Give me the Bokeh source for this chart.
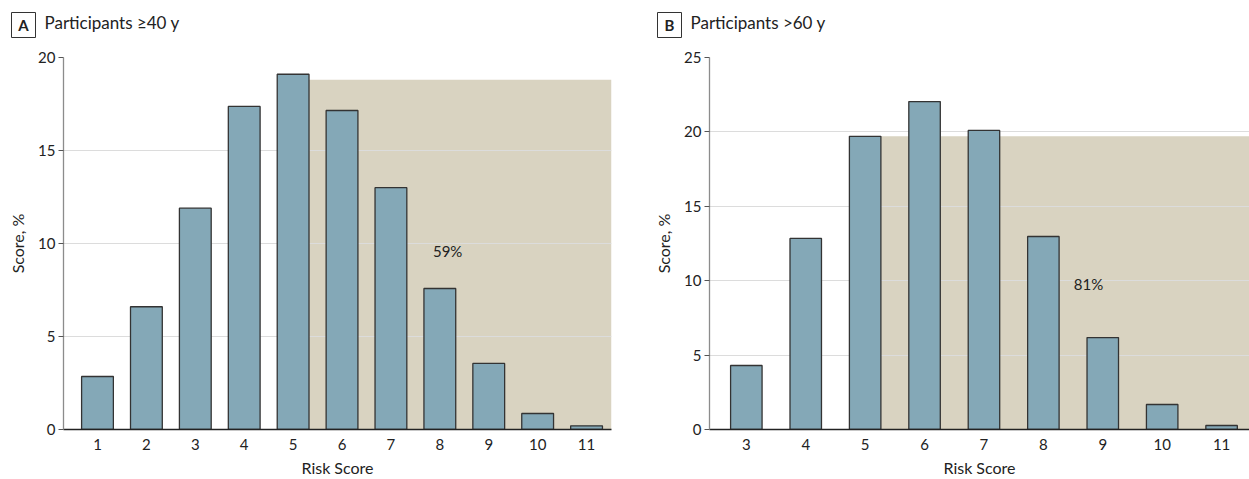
from bokeh.plotting import figure
from bokeh.layouts import row, column
from bokeh.models import Label, BoxAnnotation, FixedTicker, Range1d
from bokeh.embed import file_html
from bokeh.resources import INLINE

# ---- data ----
scores_a = [1, 2, 3, 4, 5, 6, 7, 8, 9, 10, 11]
pct_a = [2.85, 6.6, 11.9, 17.37, 19.1, 17.15, 13.0, 7.58, 3.55, 0.86, 0.2]
scores_b = [3, 4, 5, 6, 7, 8, 9, 10, 11]
pct_b = [4.3, 12.84, 19.7, 22.04, 20.1, 12.97, 6.18, 1.68, 0.27]
yticks_a = [0, 5, 10, 15, 20]
yticks_b = [0, 5, 10, 15, 20, 25]
shade_from_a = 5
shade_top_a = 18.8
shade_label_a = "59%"
shade_label_pos_a = (8.16, 9.57)
shade_from_b = 5
shade_top_b = 19.7
shade_label_b = "81%"
shade_label_pos_b = (8.76, 9.81)
title_a = ("A", "Participants \u226540 y")
title_b = ("B", "Participants >60 y")

FONT = "Lato"
BAR = "#84A8B7"
SHADE = "#D9D3C1"
TXT = "#222222"
W = 1249
HEAD_H = 45
MAIN_H = 434


def panel(xs, ys, yticks, xr, bar_w, shade_from, shade_top, lab, lab_pos,
          width, bl, br):
    p = figure(width=width, height=MAIN_H, x_range=Range1d(*xr),
               y_range=Range1d(yticks[0], yticks[-1]),
               min_border_left=bl, min_border_right=br,
               min_border_top=12, min_border_bottom=50,
               output_backend="svg", toolbar_location=None)
    p.outline_line_color = None
    p.xgrid.grid_line_color = None
    p.ygrid.grid_line_color = "#dcdcdc"
    p.ygrid.grid_line_width = 1
    p.ygrid.ticker = FixedTicker(ticks=yticks)

    p.add_layout(BoxAnnotation(left=shade_from + bar_w / 2, bottom=0, top=shade_top,
                               fill_color=SHADE, fill_alpha=1, line_color=None,
                               level="image"))
    p.vbar(x=xs, top=ys, width=bar_w, fill_color=BAR, line_color="#333333",
           line_width=1.3)

    p.add_layout(Label(x=lab_pos[0], y=lab_pos[1], text=lab, text_align="center",
                       text_baseline="middle", text_font=FONT,
                       text_font_size="15px", text_color=TXT))

    p.yaxis.ticker = FixedTicker(ticks=yticks)
    p.yaxis.axis_line_color = "#8c8c8c"
    p.yaxis.axis_line_width = 1.3
    p.yaxis.major_tick_line_color = "#555555"
    p.yaxis.major_tick_out = 5
    p.yaxis.major_tick_in = 0
    p.yaxis.minor_tick_line_color = None
    p.yaxis.major_label_text_font = FONT
    p.yaxis.major_label_text_font_size = "15px"
    p.yaxis.major_label_text_color = TXT
    p.yaxis.major_label_standoff = 3
    p.yaxis.axis_label = "Score, %"
    p.yaxis.axis_label_text_font = FONT
    p.yaxis.axis_label_text_font_size = "16px"
    p.yaxis.axis_label_text_font_style = "normal"
    p.yaxis.axis_label_text_color = TXT
    p.yaxis.axis_label_standoff = 8

    p.xaxis.ticker = FixedTicker(ticks=xs)
    p.xaxis.axis_line_color = "#222222"
    p.xaxis.axis_line_width = 1.5
    p.xaxis.major_tick_line_color = None
    p.xaxis.minor_tick_line_color = None
    p.xaxis.major_label_text_font = FONT
    p.xaxis.major_label_text_font_size = "15px"
    p.xaxis.major_label_text_color = TXT
    p.xaxis.major_label_standoff = 3
    p.xaxis.axis_label = "Risk Score"
    p.xaxis.axis_label_text_font = FONT
    p.xaxis.axis_label_text_font_size = "16px"
    p.xaxis.axis_label_text_font_style = "normal"
    p.xaxis.axis_label_text_color = TXT
    p.xaxis.axis_label_standoff = 5
    return p


# header strip with panel letters and titles (pixel-like coordinates)
head = figure(width=W, height=HEAD_H, x_range=Range1d(0, W), y_range=Range1d(0, HEAD_H),
              min_border=0, min_border_left=0, min_border_right=0,
              min_border_top=0, min_border_bottom=0,
              x_axis_type=None, y_axis_type=None,
              output_backend="svg", toolbar_location=None)
head.outline_line_color = None
head.xgrid.grid_line_color = None
head.ygrid.grid_line_color = None
for (letter, text), bx in ((title_a, 23), (title_b, 669)):
    head.rect(x=[bx], y=[HEAD_H - 24.5], width=24, height=25, fill_color="white",
              line_color="#333333", line_width=1)
    head.add_layout(Label(x=bx, y=HEAD_H - 24.5, text=letter, text_align="center",
                          text_baseline="middle", text_font=FONT,
                          text_font_size="15px", text_font_style="bold",
                          text_color=TXT))
    head.add_layout(Label(x=bx + 21, y=HEAD_H - 22, text=text, text_align="left",
                          text_baseline="middle", text_font=FONT,
                          text_font_size="17px", text_color=TXT))

pa = panel(scores_a, pct_a, yticks_a, (0.305, 11.51), 0.65, shade_from_a,
           shade_top_a, shade_label_a, shade_label_pos_a, 645, 63, 34)
pb = panel(scores_b, pct_b, yticks_b, (2.38, 11.47), 0.53, shade_from_b,
           shade_top_b, shade_label_b, shade_label_pos_b, 604, 64, 0)

layout = column(head, row(pa, pb, spacing=0), spacing=0)
open("out.html", "w").write(file_html(layout, INLINE))
